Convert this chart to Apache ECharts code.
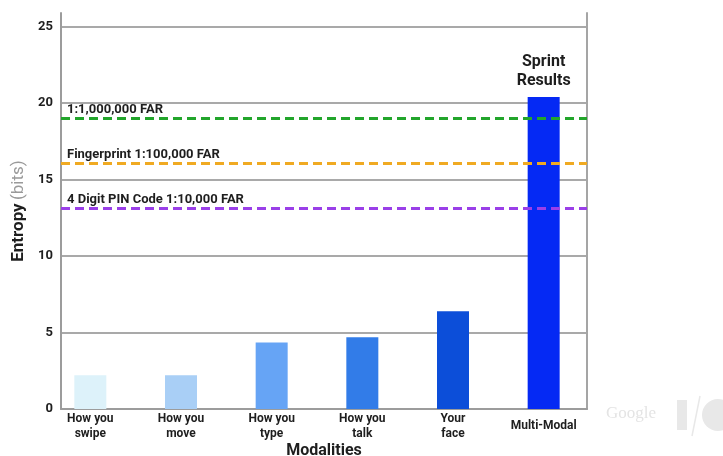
<!DOCTYPE html>
<html>
<head>
<meta charset="utf-8">
<script src="https://cdn.jsdelivr.net/npm/echarts@6/dist/echarts.min.js"></script>
<style>
  html, body { margin: 0; padding: 0; background: #ffffff; }
  #chart { width: 723px; height: 456px; }
</style>
</head>
<body>
<div id="chart"></div>
<script>
// Entropy per modality (bits)
const categories = ['How you\nswipe', 'How you\nmove', 'How you\ntype', 'How you\ntalk', 'Your\nface', 'Multi-Modal'];
const entropyBits = [2.2, 2.2, 4.35, 4.7, 6.4, 20.4];
const barColors = ['#ddf2fa', '#a9cff6', '#66a4f5', '#327ce8', '#0c4ed9', '#0529f4'];

// False-accept-rate reference levels
const thresholdNames = ['1:1,000,000 FAR', 'Fingerprint 1:100,000 FAR', '4 Digit PIN Code 1:10,000 FAR'];
const thresholdBits = [19, 16.1, 13.1];
const thresholdColors = ['#22a52b', '#f0aa22', '#9a3fe8'];

const yTop = 25.9;
const textDark = '#1e1e1e';
const gridGray = '#a9a9a9';
const fontFamily = 'Roboto, Arial, sans-serif';

const chart = echarts.init(document.getElementById('chart'));

const markLineData = thresholdBits.map((v, i) => ({
  yAxis: v,
  name: thresholdNames[i],
  lineStyle: { color: thresholdColors[i], type: [9, 5], width: 3 },
  label: {
    show: true,
    position: 'insideStartTop',
    formatter: thresholdNames[i],
    color: textDark,
    fontWeight: 'bold',
    fontSize: 13,
    fontFamily: fontFamily,
    distance: [6, 2]
  }
}));

chart.setOption({
  backgroundColor: '#ffffff',
  animation: false,
  grid: [
    { left: 61, right: 136, top: 13, bottom: 47, outerBoundsMode: 'none', containLabel: false },
    { left: 45, right: 134, top: 13, bottom: 47, outerBoundsMode: 'none', containLabel: false }
  ],
  xAxis: [
    {
      gridIndex: 0,
      type: 'category',
      data: categories,
      name: 'Modalities',
      nameLocation: 'middle',
      nameGap: 34,
      nameTextStyle: { color: textDark, fontWeight: 'bold', fontSize: 16, fontFamily: fontFamily },
      axisLine: { show: true, lineStyle: { color: '#9c9c9c', width: 2 } },
      axisTick: { show: false },
      axisLabel: { show: false }
    },
    {
      gridIndex: 1,
      type: 'category',
      data: categories,
      axisLine: { show: false },
      axisTick: { show: false },
      axisLabel: {
        color: textDark,
        fontWeight: 'bold',
        fontSize: 12,
        lineHeight: 15,
        fontFamily: fontFamily,
        verticalAlign: 'middle',
        margin: 17,
        interval: 0
      }
    }
  ],
  yAxis: [
    {
      gridIndex: 0,
      type: 'value',
      min: 0,
      max: yTop,
      interval: 5,
      name: '{a|Entropy} {b|(bits)}',
      nameLocation: 'middle',
      nameGap: 32,
      nameTextStyle: {
        rich: {
          a: { color: textDark, fontWeight: 'bold', fontSize: 17, fontFamily: fontFamily },
          b: { color: '#9a9a9a', fontSize: 17, fontFamily: fontFamily }
        }
      },
      axisLine: { show: true, lineStyle: { color: '#9c9c9c', width: 2 } },
      axisTick: { show: false },
      axisLabel: {
        color: textDark,
        fontWeight: 'bold',
        fontSize: 13,
        fontFamily: fontFamily,
        margin: 8,
        showMaxLabel: false
      },
      splitLine: { show: true, showMaxLine: false, lineStyle: { color: gridGray, width: 2 } }
    },
    {
      gridIndex: 0,
      type: 'value',
      position: 'right',
      min: 0,
      max: yTop,
      interval: 5,
      axisLine: { show: true, lineStyle: { color: '#a5a5a5', width: 2 } },
      axisTick: { show: false },
      axisLabel: { show: false },
      splitLine: { show: false }
    },
    {
      gridIndex: 1,
      type: 'value',
      min: 0,
      max: yTop,
      interval: 5,
      show: false
    }
  ],
  series: [
    {
      type: 'line',
      xAxisIndex: 0,
      yAxisIndex: 0,
      data: [],
      silent: true,
      markLine: {
        symbol: 'none',
        silent: true,
        data: markLineData
      }
    },
    {
      type: 'bar',
      xAxisIndex: 1,
      yAxisIndex: 2,
      barWidth: 32,
      data: entropyBits.map((v, i) => ({
        value: v,
        itemStyle: { color: barColors[i] },
        label: i === entropyBits.length - 1 ? {
          show: true,
          position: 'top',
          distance: 7,
          formatter: 'Sprint\nResults',
          color: textDark,
          fontWeight: 'bold',
          fontSize: 16,
          lineHeight: 19,
          fontFamily: fontFamily
        } : { show: false }
      })),
      z: 3
    }
  ],
  graphic: [
    {
      type: 'text',
      left: 606,
      top: 405,
      style: { text: 'Google', fill: '#e4e4e4', font: '17px "Liberation Serif", serif' }
    },
    {
      type: 'rect',
      shape: { x: 677, y: 400, width: 10, height: 30 },
      style: { fill: '#e8e8e8' }
    },
    {
      type: 'line',
      shape: { x1: 700, y1: 396, x2: 692, y2: 436 },
      style: { stroke: '#e8e8e8', lineWidth: 1.5 }
    },
    {
      type: 'circle',
      shape: { cx: 718, cy: 415, r: 16 },
      style: { fill: '#e8e8e8' }
    }
  ]
});
</script>
</body>
</html>
